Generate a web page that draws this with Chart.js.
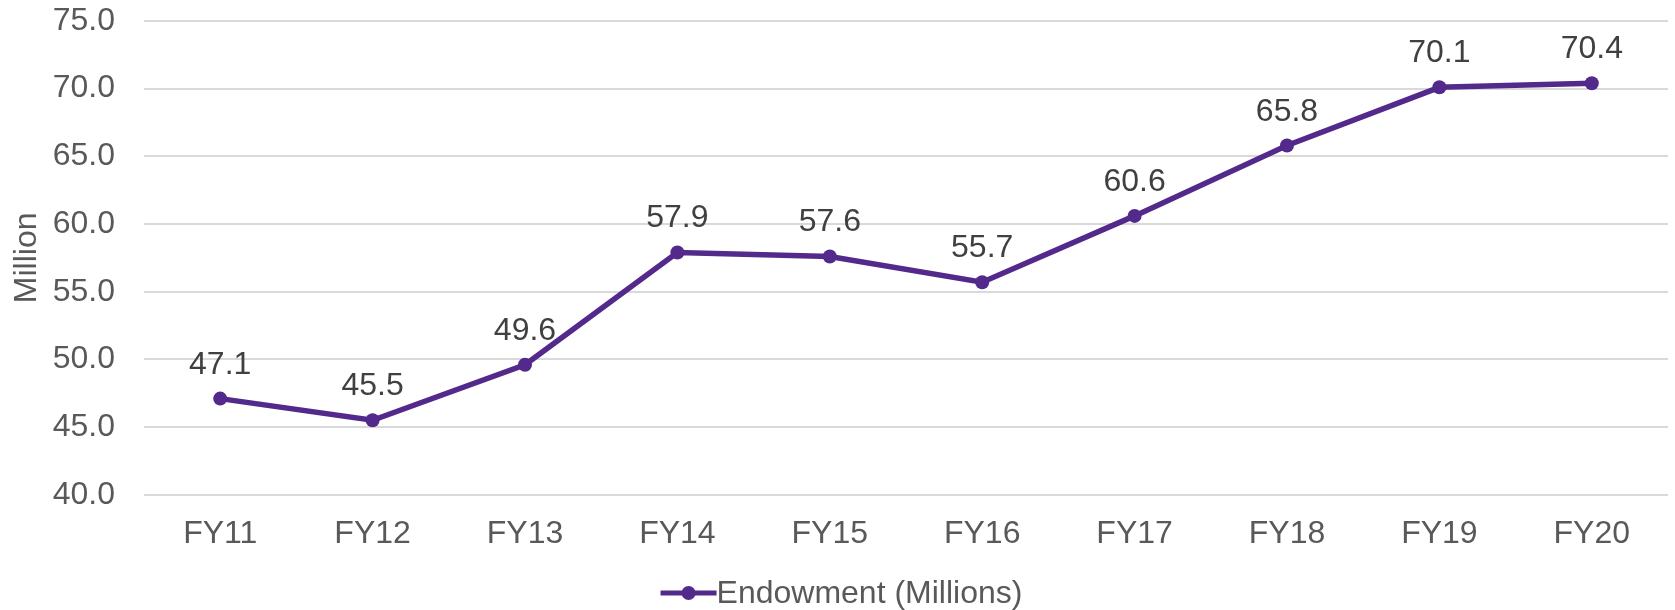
<!DOCTYPE html>
<html>
<head>
<meta charset="utf-8">
<script src="https://cdn.jsdelivr.net/npm/chart.js@4.4.0/dist/chart.umd.min.js"></script>
<style>
  html, body { margin: 0; padding: 0; background: #fff; }
  #wrap { width: 1675px; height: 610px; }
</style>
</head>
<body>
<div id="wrap"><canvas id="chart"></canvas></div>
<script>
// chart data
const years = ['FY11', 'FY12', 'FY13', 'FY14', 'FY15', 'FY16', 'FY17', 'FY18', 'FY19', 'FY20'];
const endowment = [47.1, 45.5, 49.6, 57.9, 57.6, 55.7, 60.6, 65.8, 70.1, 70.4];
const seriesName = 'Endowment (Millions)';

const purple = '#53298c';
const fontFam = '"Liberation Sans", Arial, sans-serif';
const fs = 32;

// value labels above each point
const pointLabels = {
    id: 'pointLabels',
    afterDatasetsDraw(chart) {
        const ctx = chart.ctx;
        const meta = chart.getDatasetMeta(0);
        ctx.save();
        ctx.font = fs + 'px ' + fontFam;
        ctx.fillStyle = '#404040';
        ctx.textAlign = 'center';
        ctx.textBaseline = 'alphabetic';
        meta.data.forEach(function (pt, i) {
            ctx.fillText(endowment[i].toFixed(1), pt.x, pt.y - 25);
        });
        ctx.restore();
    }
};

// legend drawn by hand: line with dot, then text
const bottomLegend = {
    id: 'bottomLegend',
    afterDraw(chart) {
        const ctx = chart.ctx;
        ctx.save();
        ctx.font = fs + 'px ' + fontFam;
        const tw = ctx.measureText(seriesName).width;
        const lineW = 56;
        const total = lineW + tw;
        const x0 = chart.width / 2 - total / 2 + 4;
        const y = 593;
        ctx.strokeStyle = purple;
        ctx.lineWidth = 5;
        ctx.beginPath();
        ctx.moveTo(x0, y);
        ctx.lineTo(x0 + lineW, y);
        ctx.stroke();
        ctx.fillStyle = purple;
        ctx.beginPath();
        ctx.arc(x0 + lineW / 2, y, 7, 0, Math.PI * 2);
        ctx.fill();
        ctx.fillStyle = '#595959';
        ctx.textAlign = 'left';
        ctx.textBaseline = 'middle';
        ctx.fillText(seriesName, x0 + lineW, y + 1);
        ctx.restore();
    }
};

new Chart(document.getElementById('chart'), {
    type: 'line',
    data: {
        labels: years,
        datasets: [{
            label: seriesName,
            data: endowment,
            borderColor: purple,
            backgroundColor: purple,
            borderWidth: 5.5,
            pointRadius: 7,
            pointHoverRadius: 7,
            pointBorderWidth: 0,
            tension: 0,
            fill: false
        }]
    },
    options: {
        responsive: true,
        maintainAspectRatio: false,
        animation: false,
        layout: { padding: { top: 21, right: 4, left: 0, bottom: 60 } },
        plugins: {
            legend: { display: false },
            tooltip: { enabled: false }
        },
        scales: {
            x: {
                offset: true,
                grid: { display: false, drawTicks: false },
                border: { display: false },
                ticks: {
                    color: '#595959',
                    font: { family: fontFam, size: fs },
                    padding: 20
                },
                afterFit(s) { s.height = 55.3; s.paddingLeft = 0; s.paddingRight = 0; }
            },
            y: {
                min: 40,
                max: 75,
                grid: { color: '#d9d9d9', lineWidth: 2, drawTicks: false },
                border: { display: false },
                ticks: {
                    stepSize: 5,
                    color: '#595959',
                    font: { family: fontFam, size: fs },
                    padding: 29,
                    callback: function (v) { return v.toFixed(1); }
                },
                title: {
                    display: true,
                    text: 'Million',
                    color: '#595959',
                    font: { family: fontFam, size: fs },
                    padding: { top: 8, bottom: 0 }
                },
                afterFit(s) { s.width = 144; s.paddingTop = 0; s.paddingBottom = 0; }
            }
        }
    },
    plugins: [pointLabels, bottomLegend]
});
</script>
</body>
</html>
